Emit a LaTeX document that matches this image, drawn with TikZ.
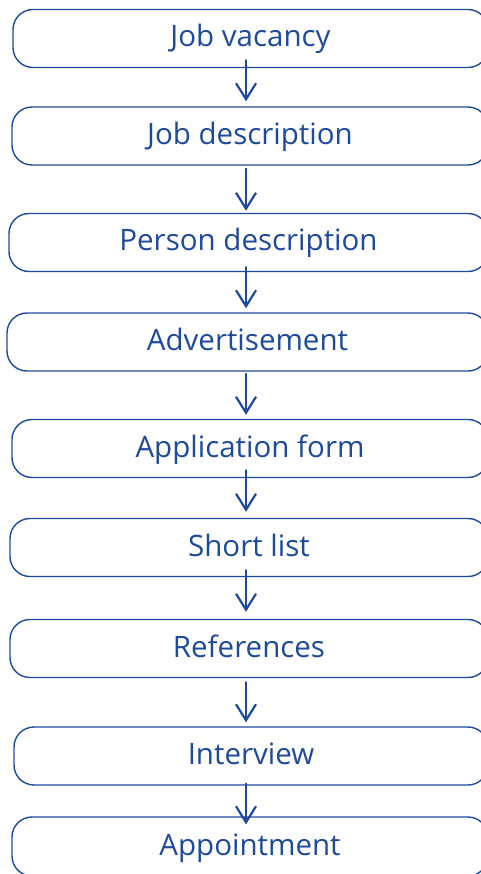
\documentclass[tikz,border=0pt]{standalone}
\usepackage{fontspec}
\setmainfont{Open Sans}
\usetikzlibrary{arrows.meta}
\definecolor{ink}{RGB}{30,74,155}
\begin{document}
\begin{tikzpicture}[x=1pt,y=-1pt,
  stage/.style={draw=ink, line width=1.4pt, rounded corners=20pt, rectangle,
    minimum height=58pt, inner sep=0pt, text=ink, text height=21pt, text depth=4pt,
    font=\fontsize{29.5}{34}\selectfont},
  arr/.style={draw=ink, line width=2.2pt, line cap=round,
    -{Straight Barb[length=16pt,width=20pt,line width=2.2pt]}}]
\useasboundingbox (0,0) rectangle (481,874);
\clip (0,0) rectangle (481,874);
\coordinate (ax) at (246,0);
\node[stage, minimum width=475pt] (b1) at (250.5,38.5) {Job vacancy};
\node[stage, minimum width=476pt] (b2) at (250,136) {Job description};
\node[stage, minimum width=479pt] (b3) at (248.5,242.5) {Person description};
\node[stage, minimum width=481pt] (b4) at (247.5,342) {Advertisement};
\node[stage, minimum width=476pt] (b5) at (250,448.5) {Application form};
\node[stage, minimum width=478pt] (b6) at (249,547.5) {Short list};
\node[stage, minimum width=478pt] (b7) at (249,648.5) {References};
\node[stage, minimum width=474pt] (b8) at (251,756) {Interview};
\node[stage, minimum width=476pt, minimum height=59pt] (b9) at (250,846.5) {Appointment};
\draw[arr] ([yshift=8pt]b1.south -| ax) -- ([yshift=5pt]b2.north -| ax);
\draw[arr] ([yshift=-3pt]b2.south -| ax) -- ([yshift=2pt]b3.north -| ax);
\draw[arr] ([yshift=5pt]b3.south -| ax) -- ([yshift=4pt]b4.north -| ax);
\draw[arr] ([yshift=-2pt]b4.south -| ax) -- ([yshift=4pt]b5.north -| ax);
\draw[arr] ([yshift=8pt]b5.south -| ax) -- ([yshift=6pt]b6.north -| ax);
\draw[arr] ([yshift=7pt]b6.south -| ax) -- ([yshift=7pt]b7.north -| ax);
\draw[arr] ([yshift=-4pt]b7.south -| ax) -- ([yshift=4pt]b8.north -| ax);
\draw[arr] ([yshift=2pt]b8.south -| ax) -- ([yshift=-8pt]b9.north -| ax);
\end{tikzpicture}
\end{document}
